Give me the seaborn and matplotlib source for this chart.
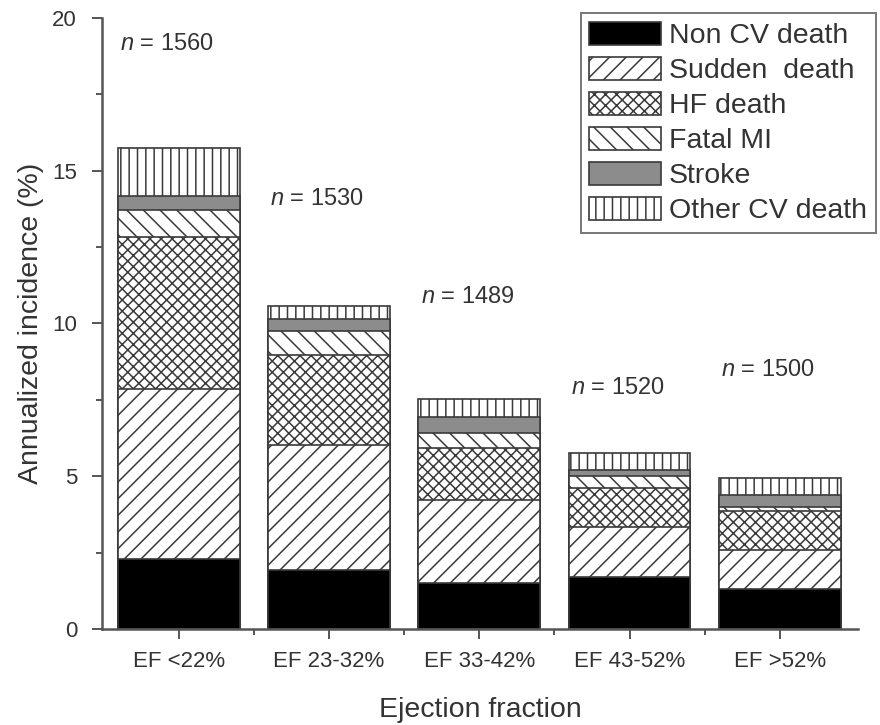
import matplotlib
matplotlib.use("Agg")
import matplotlib.pyplot as plt
import seaborn as sns
import numpy as np
import pandas as pd
from matplotlib.ticker import MultipleLocator, FixedLocator
from matplotlib.patches import Patch

categories = ["EF <22%", "EF 23-32%", "EF 33-42%", "EF 43-52%", "EF >52%"]
n_labels = ["1560", "1530", "1489", "1520", "1500"]
non_cv = [2.30, 1.93, 1.50, 1.70, 1.30]
sudden = [5.54, 4.10, 2.73, 1.63, 1.27]
hf = [4.99, 2.95, 1.70, 1.27, 1.28]
fatal_mi = [0.87, 0.77, 0.50, 0.40, 0.14]
stroke = [0.48, 0.38, 0.52, 0.20, 0.40]
other_cv = [1.55, 0.44, 0.59, 0.55, 0.55]
series_names = ["Non CV death", "Sudden  death", "HF death", "Fatal MI", "Stroke", "Other CV death"]
n_label_y = [19.15, 14.07, 10.85, 7.9, 8.49]

sns.set_style("ticks")
plt.rcParams["font.family"] = ["Liberation Sans", "DejaVu Sans"]
plt.rcParams["mathtext.fontset"] = "custom"
plt.rcParams["mathtext.it"] = "Liberation Sans:italic"
plt.rcParams["mathtext.rm"] = "Liberation Sans"
plt.rcParams["hatch.linewidth"] = 1.1

txt = "#333333"
edge = "#3a3a3a"
styles = [
    dict(color="black", hatch=None),
    dict(color="white", hatch="//"),
    dict(color="white", hatch="xxx"),
    dict(color="white", hatch="\\\\"),
    dict(color="#8c8c8c", hatch=None),
    dict(color="white", hatch="||"),
]

fig = plt.figure(figsize=(8.8, 7.25), dpi=100)
ax = fig.add_axes([0.116, 0.1324, 0.859, 0.843])

layers = [non_cv, sudden, hf, fatal_mi, stroke, other_cv]
cum = np.cumsum(np.array(layers), axis=0)

# draw from the top layer down so lower segments cover upper cumulative bars
for i in range(len(layers) - 1, -1, -1):
    df = pd.DataFrame({"cat": categories, "val": cum[i]})
    st = styles[i]
    sns.barplot(data=df, x="cat", y="val", order=categories, color=st["color"],
                saturation=1, width=0.81, errorbar=None, edgecolor=edge,
                linewidth=1.2, hatch=st["hatch"], ax=ax)

handles = []
for i in range(len(layers)):
    st = styles[i]
    handles.append(Patch(facecolor=st["color"], edgecolor=edge, hatch=st["hatch"],
                         linewidth=1.2, label=series_names[i]))

for j, lab in enumerate(n_labels):
    ax.text(j - 0.08, n_label_y[j], "$n$ = " + lab, ha="center", va="center",
            fontsize=17, color=txt)

ax.set_xlim(-0.51, 4.52)
ax.set_ylim(0, 20)
ax.yaxis.set_major_locator(MultipleLocator(5))
ax.yaxis.set_minor_locator(MultipleLocator(2.5))
ax.xaxis.set_minor_locator(FixedLocator([0.5, 1.5, 2.5, 3.5]))
ax.tick_params(axis="both", which="major", direction="out", length=7, width=1.4,
               colors="#555555", labelcolor=txt, labelsize=16)
ax.tick_params(axis="both", which="minor", direction="out", length=4, width=1.4,
               colors="#555555")
ax.tick_params(axis="x", which="major", pad=9)
ax.tick_params(axis="y", which="major", pad=11)
ax.set_xlabel("Ejection fraction", fontsize=20.5, color=txt, labelpad=18)
ax.set_ylabel("Annualized incidence (%)", fontsize=20.5, color=txt, labelpad=6)
sns.despine(ax=ax)
for s in ["left", "bottom"]:
    ax.spines[s].set_linewidth(1.8)
    ax.spines[s].set_color("#555555")

leg = fig.legend(handles=handles, loc="upper right", bbox_to_anchor=(0.995, 0.982),
                 fontsize=20.5, frameon=True, fancybox=False, edgecolor="#555555",
                 handlelength=2.5, handleheight=0.9, handletextpad=0.3,
                 labelspacing=0.26, borderpad=0.3, borderaxespad=0.0)
for t in leg.get_texts():
    t.set_color(txt)
leg.get_frame().set_linewidth(1.4)

fig.savefig("out.png", dpi=100, facecolor="white")
